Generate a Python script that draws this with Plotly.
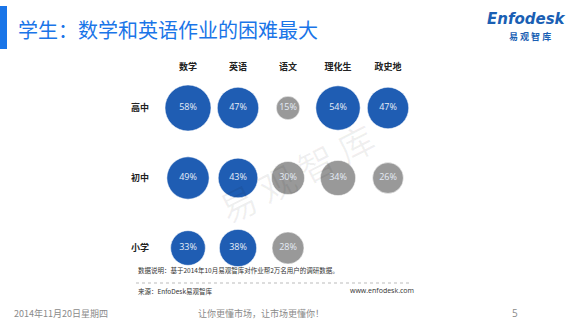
import plotly.graph_objects as go

# ---- data ----
subjects = ["数学", "英语", "语文", "理化生", "政史地"]
grades = ["高中", "初中", "小学"]
senior_high = [58, 47, 15, 54, 47]
junior_high = [49, 43, 30, 34, 26]
primary = [33, 38, 28, None, None]
# which cells are highlighted (blue) in the original
highlight_senior = [True, True, False, True, True]
highlight_junior = [True, True, False, False, False]
highlight_primary = [True, True, False, False, False]

W, H = 580, 326
BLUE = "#1f5db3"
GREY = "#999999"
CJK = "Noto Sans CJK SC"

def px(x):
    return x / W

def py(y):
    return 1 - y / H

fig = go.Figure()

rows = [(grades[0], senior_high, highlight_senior),
        (grades[1], junior_high, highlight_junior),
        (grades[2], primary, highlight_primary)]

xs, ys, vals, cols, texts = [], [], [], [], []
for g, values, hl in rows:
    for s, v, h in zip(subjects, values, hl):
        if v is None:
            continue
        xs.append(s)
        ys.append(g)
        vals.append(v)
        cols.append(BLUE if h else GREY)
        texts.append(f"{v}%")

max_d = 46
sizeref = 2 * max(vals) / (max_d ** 2)

fig.add_trace(go.Scatter(
    x=xs, y=ys, mode="markers+text",
    text=texts, textposition="middle center",
    textfont=dict(family="Open Sans, " + CJK, size=9, color="#e6edf7"),
    marker=dict(size=vals, sizemode="area", sizeref=sizeref, color=cols,
                line=dict(width=1, color="rgba(255,255,255,0.5)"), opacity=1),
    hoverinfo="skip", showlegend=False, cliponaxis=False,
))

fig.update_layout(
    width=W, height=H, margin=dict(l=0, r=0, t=0, b=0),
    paper_bgcolor="white", plot_bgcolor="white",
    xaxis=dict(type="category", categoryorder="array", categoryarray=subjects,
               range=[-0.5, 4.5], domain=[px(163), px(413)], side="top",
               showgrid=False, zeroline=False, showline=False, ticks="",
               tickfont=dict(family=CJK, size=9, color="#222222", weight="bold"),
               ticklabelstandoff=0, anchor="y"),
    yaxis=dict(type="category", categoryorder="array", categoryarray=grades,
               range=[2.5, -0.5], domain=[py(283), py(73)],
               showgrid=False, zeroline=False, showline=False, ticks="",
               tickfont=dict(family=CJK, size=9, color="#222222", weight="bold"),
               ticklabelstandoff=13, anchor="x"),
)

shapes = [
    dict(type="rect", xref="paper", yref="paper", x0=0, x1=px(7), y0=py(49), y1=py(6),
         fillcolor="#1a75e8", line=dict(width=0), layer="below"),
    dict(type="line", xref="paper", yref="paper", x0=px(136), x1=px(412), y0=py(283), y1=py(283),
         line=dict(color="#bbbbbb", width=1, dash="dot")),
]
fig.update_layout(shapes=shapes)

ann = []
def note(text, x, y, size, color, xanchor="left", family=CJK, **kw):
    ann.append(dict(text=text, x=px(x), y=py(y), xref="paper", yref="paper",
                    xanchor=xanchor, yanchor="middle", showarrow=False,
                    font=dict(family=family, size=size, color=color, **{k: v for k, v in kw.items() if k in ("weight", "style")}),
                    **{k: v for k, v in kw.items() if k not in ("weight", "style")}))

# watermark
note("易 观 智 库", 296, 172, 36, "rgba(0,0,0,0.06)", xanchor="center", textangle=-27)
# title
note("学生：数学和英语作业的困难最大", 16, 29, 20, "#1a75e8")
# logo
note("Enfodesk", 526, 19, 15, "#1a5fb4", xanchor="center", family="DejaVu Sans", weight="bold", style="italic")
note("易 观 智 库", 530, 36, 9, "#1a5fb4", xanchor="center", weight="bold")
# footnotes
note("数据说明：基于2014年10月易观智库对作业帮2万名用户的调研数据。", 136, 270, 6.5, "#333333")
note("来源：EnfoDesk易观智库", 136, 291, 6.5, "#333333")
note("www.enfodesk.com", 416, 290, 7, "#333333", xanchor="right", family="Open Sans")
# footer
note("2014年11月20日星期四", 12, 313, 9, "#8a8a8a")
note("让你更懂市场，让市场更懂你！", 261, 313, 9, "#8a8a8a", xanchor="center")
note("5", 515, 313, 10, "#8a8a8a", xanchor="center", family="Open Sans")

fig.update_layout(annotations=ann)

fig.write_html("out.html")
